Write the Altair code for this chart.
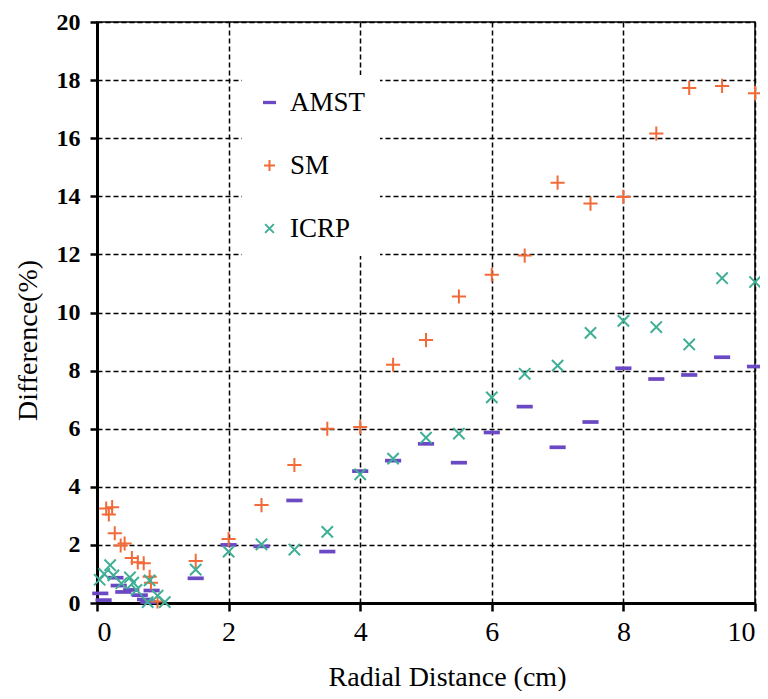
import altair as alt
import pandas as pd

# ---- data ----
amst_x = [0.05, 0.10, 0.28, 0.33, 0.40, 0.52, 0.65, 0.73, 0.78, 0.83,
          1.5, 2.0, 2.5, 3.0, 3.5, 4.0, 4.5, 5.0, 5.5, 6.0, 6.5, 7.0, 7.5, 8.0, 8.5, 9.0, 9.5, 10.0]
amst_y = [0.33, 0.10, 0.87, 0.60, 0.38, 0.45, 0.27, 0.12, 0.03, 0.43,
          0.85, 2.00, 1.95, 3.53, 1.77, 4.54, 4.90, 5.48, 4.83, 5.87, 6.76, 5.36, 6.23, 8.08, 7.71, 7.85, 8.46, 8.14]

sm_x = [0.14, 0.18, 0.23, 0.27, 0.36, 0.42, 0.53, 0.62, 0.71, 0.80, 0.82, 0.92,
        1.5, 2.0, 2.5, 3.0, 3.5, 4.0, 4.5, 5.0, 5.5, 6.0, 6.5, 7.0, 7.5, 8.0, 8.5, 9.0, 9.5, 10.0]
sm_y = [3.25, 3.05, 3.30, 2.40, 1.98, 2.05, 1.55, 1.40, 1.37, 0.90, 0.70, 0.05,
        1.45, 2.20, 3.37, 4.75, 6.00, 6.06, 8.20, 9.05, 10.55, 11.30, 11.96, 14.47, 13.75, 13.98, 16.16, 17.73, 17.80, 17.55]

icrp_x = [0.04, 0.11, 0.20, 0.25, 0.37, 0.50, 0.55, 0.60, 0.77, 0.80, 0.92, 1.03,
          1.5, 2.0, 2.5, 3.0, 3.5, 4.0, 4.5, 5.0, 5.5, 6.0, 6.5, 7.0, 7.5, 8.0, 8.5, 9.0, 9.5, 10.0]
icrp_y = [0.80, 1.00, 1.30, 0.95, 0.68, 0.88, 0.70, 0.45, 0.03, 0.78, 0.25, 0.03,
          1.15, 1.77, 2.02, 1.84, 2.45, 4.43, 4.97, 5.69, 5.83, 7.08, 7.89, 8.17, 9.30, 9.71, 9.50, 8.90, 11.18, 11.05]

series = ["AMST", "SM", "ICRP"]
colors = ["#6B48C4", "#F26A38", "#3FAF96"]
shapes = ["M-1,-0.12H1V0.12H-1Z",
          "M-1,0H1M0,-1V1",
          "M-0.8,-0.8L0.8,0.8M-0.8,0.8L0.8,-0.8"]

x_ticks = [0, 2, 4, 6, 8, 10]
y_ticks = [0, 2, 4, 6, 8, 10, 12, 14, 16, 18, 20]

rows = []
for name, xs, ys in [("AMST", amst_x, amst_y), ("SM", sm_x, sm_y), ("ICRP", icrp_x, icrp_y)]:
    for xv, yv in zip(xs, ys):
        rows.append({"series": name, "x": xv, "y": yv})
df = pd.DataFrame(rows)

FONT = "Liberation Serif"

legend = alt.Legend(
    title=None, orient="none", legendX=145, legendY=53,
    fillColor="white", padding=14, rowPadding=35,
    labelFont=FONT, labelFontSize=27, labelColor="black", labelOffset=7,
    symbolSize=120, symbolStrokeWidth=2,
)

chart = alt.Chart(df).mark_point(filled=False, strokeWidth=2, opacity=1, size=200).encode(
    x=alt.X("x:Q", scale=alt.Scale(domain=[0, 10], nice=False),
            axis=alt.Axis(values=x_ticks, title="Radial Distance (cm)", format="d",
                          labelFont=FONT, labelFontSize=28, labelColor="black",
                          labelPadding=7, tickSize=8, tickWidth=2.5, tickColor="black",
                          domainColor="black", domainWidth=3,
                          grid=True, gridColor="black", gridDash=[5, 3], gridWidth=1.5, gridOpacity=1,
                          titleFont=FONT, titleFontSize=28, titleFontWeight="normal", titleColor="black",
                          titleX=350, titleY=74, titleAlign="center", titleBaseline="middle")),
    y=alt.Y("y:Q", scale=alt.Scale(domain=[0, 20], nice=False),
            axis=alt.Axis(values=y_ticks, title="Difference(%)", format="d",
                          labelFont=FONT, labelFontSize=24, labelFontWeight="bold", labelColor="black",
                          labelPadding=10, tickSize=7, tickWidth=2.5, tickColor="black",
                          domainColor="black", domainWidth=3,
                          grid=True, gridColor="black", gridDash=[5, 3], gridWidth=1.5, gridOpacity=1,
                          titleFont=FONT, titleFontSize=28, titleFontWeight="normal", titleColor="black",
                          titleX=-69, titleY=318, titleAngle=270, titleAlign="center", titleBaseline="middle")),
    color=alt.Color("series:N", scale=alt.Scale(domain=series, range=colors), legend=legend),
    shape=alt.Shape("series:N", scale=alt.Scale(domain=series, range=shapes), legend=legend),
).properties(
    width=658, height=581,
    autosize=alt.AutoSizeParams(type="none"),
    padding={"left": 89, "top": 14, "right": 5, "bottom": 88},
    background="white",
).configure_view(stroke="black", strokeWidth=1.5)

chart.save("out.html", embed_options={"renderer": "svg", "actions": False})
